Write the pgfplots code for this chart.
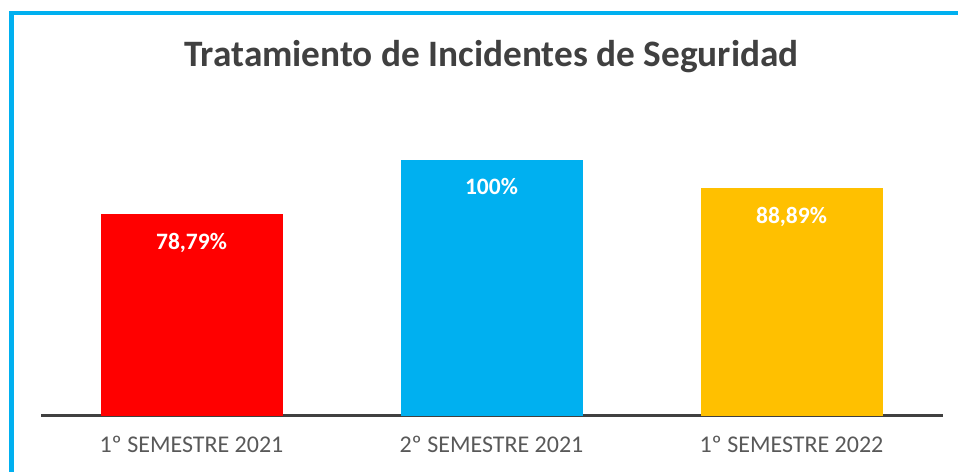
\documentclass[border=0pt]{standalone}
\usepackage{fontspec}
\setmainfont{Carlito}
\usepackage{pgfplots}
\pgfplotsset{compat=1.18}
\definecolor{cRed}{HTML}{FF0000}
\definecolor{cBlue}{HTML}{00B0F0}
\definecolor{cYel}{HTML}{FFC000}
\definecolor{cAxis}{HTML}{404040}
\definecolor{cTick}{HTML}{595959}
\begin{document}
\begin{tikzpicture}
\useasboundingbox (0,0) rectangle (958bp,472bp);
\fill[white] (0,0) rectangle (958bp,472bp);
\draw[cBlue, line width=4.5bp] (11.7bp,-5bp) -- (11.7bp,459bp) -- (965bp,459bp);
\node[anchor=base, text=cAxis, font=\fontsize{37.3bp}{41bp}\selectfont\bfseries] at (491.5bp,405bp) {Tratamiento de Incidentes de Seguridad};
\begin{axis}[
  at={(41.5bp,56bp)}, anchor=south west,
  scale only axis, width=900bp, height=256bp,
  xmin=-0.5, xmax=2.5, ymin=0, ymax=100,
  clip=false,
  axis x line=bottom, axis y line=none,
  axis line style={cAxis, line width=3bp, -},
  x axis line style={shorten <=-0.5bp, shorten >=-1.5bp},
  xtick={0,1,2},
  xticklabels={1º SEMESTRE 2021, 2º SEMESTRE 2021, 1º SEMESTRE 2022},
  major tick length=0pt,
  xticklabel style={anchor=base, yshift=-36.5bp, text=cTick, font=\fontsize{24bp}{27bp}\selectfont},
  ytick=\empty,
  bar width=182bp,
  point meta=explicit symbolic,
  nodes near coords={\pgfplotspointmeta},
  nodes near coords style={anchor=base, yshift=-35bp, text=white, font=\fontsize{23.5bp}{26bp}\selectfont\bfseries},
]
\addplot[ybar, fill=cRed, draw=none] coordinates {(0,78.79) [78,79\%]};
\addplot[ybar, fill=cBlue, draw=none] coordinates {(1,100) [100\%]};
\addplot[ybar, fill=cYel, draw=none] coordinates {(2,88.89) [88,89\%]};
\end{axis}
\end{tikzpicture}
\end{document}
